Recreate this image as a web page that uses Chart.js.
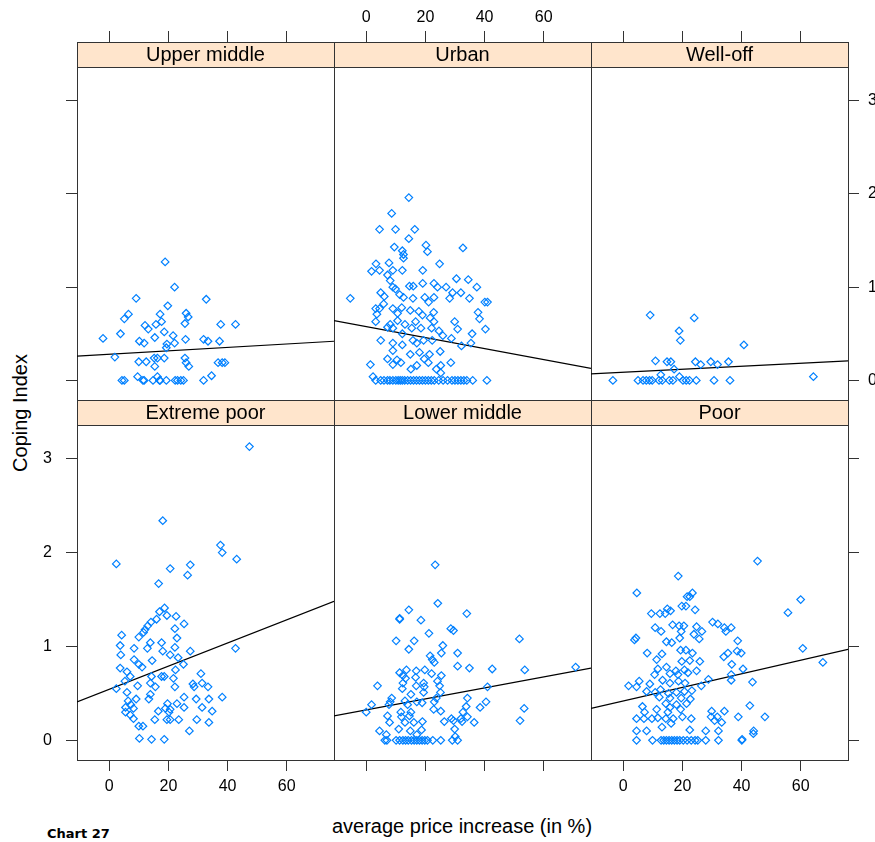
<!DOCTYPE html>
<html>
<head>
<meta charset="utf-8">
<script src="https://cdn.jsdelivr.net/npm/chart.js@4/dist/chart.umd.min.js"></script>
<style>
  body { margin: 0; background: #fff; width: 875px; height: 842px; position: relative; overflow: hidden; }
  canvas { position: absolute; left: 0; top: 0; }
  .lbl { position: absolute; font-family: 'Liberation Sans', Arial, sans-serif; font-size: 20px; color: #000; white-space: nowrap; }
</style>
</head>
<body>
<div class="lbl" id="ytitle" style="left:20px;top:413px;transform:translate(-50%,-50%) rotate(-90deg);">Coping Index</div>
<div class="lbl" style="left:462px;top:826px;transform:translate(-50%,-50%);">average price increase (in %)</div>
<div class="lbl" style="left:47px;top:826px;font-family:'DejaVu Sans',Verdana,sans-serif;font-weight:bold;font-size:13px;">Chart 27</div>

<script>
// panel titles, in lattice order (top row first)
const panelNames = ['Upper middle', 'Urban', 'Well-off', 'Extreme poor', 'Lower middle', 'Poor'];
const xTicks = [0, 20, 40, 60];
const yTicks = [0, 1, 2, 3];

// fitted line: y at left edge and right edge of the x range
const fitLeftX = -10.9;
const fitRightX = 76;
const fitUpperMiddle = [0.26, 0.42];
const fitUrban = [0.64, 0.13];
const fitWellOff = [0.07, 0.21];
const fitExtremePoor = [0.41, 1.48];
const fitLowerMiddle = [0.26, 0.77];
const fitPoor = [0.34, 0.97];

// points: [price increase %, coping index]
const upperMiddle = [[18.9,1.27],[22.1,1.0],[9.1,0.88],[32.8,0.87],[19.8,0.80],[6.5,0.71],[5.1,0.66],[17.2,0.71],[26.0,0.72],[26.7,0.68],[17.7,0.63],[15.8,0.60],[25.6,0.61],[12.1,0.59],[13.2,0.55],[37.7,0.60],[42.7,0.60],[3.8,0.50],[-2.1,0.45],[18.6,0.52],[15.4,0.46],[21.6,0.48],[10.2,0.42],[11.8,0.40],[22.1,0.40],[25.8,0.44],[31.9,0.44],[33.4,0.42],[37.3,0.42],[19.5,0.39],[19.3,0.35],[1.9,0.25],[10.0,0.20],[12.5,0.20],[15.2,0.24],[16.3,0.24],[18.6,0.24],[15.4,0.15],[25.6,0.24],[26.0,0.19],[26.9,0.15],[36.8,0.19],[38.2,0.19],[39.1,0.19],[9.6,0.04],[16.3,0.04],[34.6,0.05],[4.3,0],[5.1,0],[11.4,0],[11.8,0],[14.8,0],[17.0,0],[17.2,0],[19.3,0],[22.3,0],[23.1,0],[24.2,0],[25.1,0],[31.9,0]];

const urban = [[14.4,1.96],[8.6,1.79],[4.5,1.62],[9.9,1.62],[16.4,1.62],[14.4,1.52],[9.5,1.43],[20.2,1.45],[20.7,1.38],[32.7,1.42],[12.2,1.39],[12.6,1.35],[12.6,1.31],[7.7,1.26],[3.3,1.25],[1.8,1.17],[4.5,1.18],[24.8,1.25],[19.1,1.18],[12.2,1.18],[9.0,1.18],[7.2,1.13],[8.1,1.07],[30.5,1.09],[34.5,1.08],[19.1,1.04],[22.9,1.04],[24.1,1.00],[27.0,1.00],[37.4,1.00],[9.0,1.00],[9.9,0.98],[14.6,1.01],[15.9,1.01],[-5.4,0.88],[4.9,0.94],[6.1,0.90],[11.3,0.92],[12.6,0.89],[15.8,0.88],[19.8,0.89],[22.9,0.89],[29.2,0.94],[32.0,0.94],[28.2,0.88],[34.9,0.88],[40.1,0.84],[41.0,0.84],[3.2,0.77],[4.5,0.77],[5.9,0.82],[9.0,0.77],[10.6,0.72],[12.0,0.78],[14.9,0.75],[17.8,0.74],[19.0,0.70],[22.8,0.73],[21.1,0.84],[3.6,0.71],[3.2,0.63],[8.1,0.60],[10.6,0.64],[13.1,0.60],[16.7,0.63],[21.6,0.67],[22.9,0.63],[29.9,0.63],[37.8,0.73],[38.3,0.66],[40.3,0.55],[30.9,0.55],[7.2,0.57],[9.0,0.56],[12.2,0.50],[15.4,0.56],[18.5,0.56],[22.1,0.56],[24.6,0.53],[25.9,0.48],[28.8,0.45],[35.8,0.50],[35.4,0.40],[4.9,0.43],[9.0,0.40],[15.8,0.43],[17.1,0.40],[19.4,0.43],[22.3,0.43],[12.2,0.38],[32.2,0.37],[9.0,0.32],[14.9,0.28],[18.0,0.30],[21.4,0.28],[25.0,0.31],[7.2,0.23],[10.4,0.22],[11.7,0.19],[19.6,0.23],[21.0,0.19],[28.6,0.19],[1.4,0.17],[9.0,0.17],[17.1,0.16],[25.2,0.16],[15.1,0.12],[23.7,0.12],[25.2,0.08],[2.3,0.04],[3.2,0],[4.9,0],[6.0,0],[7.2,0],[8.0,0],[9.0,0],[10.0,0],[10.8,0],[11.5,0],[12.2,0],[13.0,0],[14.0,0],[15.0,0],[16.0,0],[17.0,0],[18.0,0],[19.0,0],[20.0,0],[21.0,0],[22.0,0],[23.0,0],[24.5,0],[26.0,0],[27.5,0],[29.0,0],[30.0,0],[31.0,0],[32.0,0],[33.0,0],[34.0,0],[36.0,0],[40.8,0]];

const wellOff = [[9.1,0.70],[24.0,0.67],[18.9,0.53],[19.3,0.43],[40.8,0.38],[10.9,0.21],[14.8,0.20],[16.1,0.20],[17.2,0.12],[24.4,0.20],[26.2,0.17],[29.6,0.20],[31.9,0.17],[35.6,0.20],[12.7,0.06],[19.0,0.04],[64.3,0.04],[-3.5,0],[5.0,0],[6.7,0],[7.8,0],[8.9,0],[9.8,0],[12.1,0],[13.2,0],[15.6,0],[16.8,0],[20.2,0],[21.3,0],[22.4,0],[24.7,0],[30.7,0],[36.1,0]];

const extremePoor = [[47.4,3.13],[18.1,2.34],[37.6,2.08],[38.2,2.00],[43.1,1.93],[2.4,1.88],[20.6,1.83],[27.4,1.87],[26.5,1.76],[16.7,1.67],[18.7,1.41],[17.0,1.37],[19.5,1.33],[22.6,1.32],[16.0,1.29],[14.1,1.26],[25.3,1.24],[13.0,1.22],[12.1,1.18],[22.2,1.19],[11.6,1.15],[4.2,1.12],[10.0,1.10],[22.9,1.09],[13.9,1.04],[17.7,1.04],[3.7,1.01],[8.4,0.98],[12.9,0.98],[22.2,0.99],[27.4,0.95],[18.1,0.95],[20.6,0.91],[3.9,0.91],[42.7,0.98],[8.4,0.86],[14.5,0.85],[23.3,0.88],[10.0,0.81],[11.1,0.78],[25.1,0.81],[3.7,0.77],[6.0,0.73],[22.4,0.75],[14.3,0.68],[17.7,0.68],[7.1,0.68],[18.6,0.68],[21.7,0.66],[5.3,0.63],[13.9,0.61],[28.3,0.60],[31.4,0.61],[31.0,0.71],[2.4,0.55],[9.6,0.58],[15.6,0.57],[22.2,0.57],[28.7,0.57],[33.4,0.57],[6.0,0.51],[13.9,0.49],[25.3,0.46],[38.2,0.46],[6.4,0.42],[9.1,0.44],[13.4,0.44],[29.4,0.44],[33.7,0.44],[7.3,0.38],[19.7,0.39],[22.9,0.39],[5.5,0.35],[8.2,0.34],[19.0,0.34],[20.6,0.33],[25.3,0.35],[31.4,0.35],[5.5,0.30],[20.2,0.30],[34.8,0.31],[16.6,0.31],[7.1,0.27],[8.2,0.23],[15.4,0.22],[19.5,0.22],[20.6,0.22],[23.5,0.22],[29.6,0.22],[33.7,0.19],[10.0,0.15],[11.4,0.15],[27.1,0.10],[10.2,0.02],[14.3,0.01],[18.6,0.01]];

const lowerMiddle = [[23.3,1.87],[24.2,1.46],[14.4,1.39],[34.0,1.35],[11.3,1.30],[11.3,1.29],[18.5,1.28],[28.6,1.19],[29.5,1.17],[21.2,1.14],[10.1,1.06],[16.2,1.06],[14.4,0.97],[25.9,1.01],[25.4,0.93],[30.9,0.93],[21.6,0.90],[22.3,0.86],[23.0,0.83],[30.9,0.79],[34.9,0.77],[42.6,0.76],[51.8,1.08],[53.6,0.75],[70.8,0.78],[11.3,0.72],[13.6,0.75],[16.9,0.74],[19.8,0.75],[22.1,0.71],[25.4,0.69],[12.4,0.69],[13.3,0.66],[16.7,0.67],[19.4,0.61],[24.1,0.63],[3.8,0.58],[12.4,0.61],[16.9,0.58],[19.6,0.57],[24.8,0.58],[12.2,0.55],[15.1,0.49],[19.4,0.51],[25.1,0.51],[41.0,0.57],[8.6,0.45],[8.1,0.41],[34.2,0.45],[40.5,0.41],[13.1,0.42],[17.1,0.41],[18.9,0.40],[23.0,0.41],[23.7,0.45],[1.8,0.38],[7.7,0.38],[14.0,0.38],[33.8,0.36],[38.5,0.35],[0.0,0.30],[11.7,0.30],[15.1,0.30],[22.8,0.33],[25.2,0.31],[32.7,0.30],[53.4,0.34],[7.2,0.26],[11.9,0.25],[14.6,0.26],[28.8,0.23],[32.0,0.23],[34.2,0.25],[7.9,0.19],[13.1,0.19],[16.1,0.19],[19.0,0.20],[26.4,0.20],[29.5,0.21],[32.4,0.20],[36.5,0.19],[52.0,0.21],[11.0,0.12],[14.9,0.10],[18.7,0.11],[4.5,0.10],[29.9,0.12],[6.8,0.06],[17.1,0.06],[30.1,0.04],[6.3,0],[7.0,0],[10.1,0],[11.3,0],[12.4,0],[13.3,0],[14.2,0],[15.3,0],[16.2,0],[17.1,0],[18.0,0],[18.9,0],[19.8,0],[20.7,0],[22.5,0],[25.2,0],[29.1,0],[30.9,0]];

const poor = [[45.4,1.91],[18.6,1.75],[4.6,1.57],[23.4,1.57],[22.5,1.53],[21.6,1.53],[19.8,1.43],[21.2,1.43],[24.3,1.39],[14.9,1.40],[16.0,1.38],[9.5,1.35],[12.4,1.35],[14.2,1.35],[30.2,1.26],[32.0,1.24],[34.2,1.20],[34.7,1.16],[36.5,1.20],[16.7,1.23],[18.9,1.22],[20.5,1.22],[10.8,1.20],[12.8,1.16],[19.6,1.16],[24.8,1.21],[23.9,1.13],[26.6,1.16],[25.7,1.08],[19.1,1.09],[3.8,1.07],[4.3,1.09],[14.6,1.05],[16.4,1.04],[38.7,1.06],[19.4,0.96],[21.2,0.96],[23.4,0.93],[8.1,0.93],[13.1,0.92],[34.0,0.89],[35.4,0.93],[38.5,0.95],[39.9,0.93],[11.3,0.86],[22.5,0.85],[25.9,0.84],[19.8,0.84],[36.7,0.81],[40.5,0.76],[11.7,0.76],[14.6,0.78],[17.8,0.74],[20.7,0.75],[24.8,0.74],[10.6,0.70],[15.8,0.71],[18.5,0.70],[21.9,0.72],[36.5,0.70],[5.4,0.63],[1.8,0.58],[4.5,0.57],[9.0,0.60],[13.3,0.64],[15.8,0.61],[18.7,0.63],[20.9,0.61],[28.8,0.65],[36.5,0.64],[43.7,0.62],[26.4,0.58],[7.9,0.52],[10.8,0.51],[12.6,0.54],[15.3,0.50],[18.0,0.51],[20.7,0.52],[23.2,0.53],[12.2,0.46],[15.8,0.45],[19.6,0.45],[22.7,0.44],[14.4,0.39],[18.0,0.38],[21.4,0.39],[6.5,0.36],[15.8,0.35],[42.8,0.37],[7.2,0.30],[11.3,0.33],[15.1,0.30],[19.4,0.33],[29.9,0.31],[34.2,0.31],[4.5,0.23],[7.0,0.23],[9.7,0.23],[11.7,0.24],[14.4,0.23],[16.9,0.23],[20.0,0.25],[23.0,0.23],[29.7,0.25],[31.8,0.25],[38.9,0.25],[47.9,0.25],[16.2,0.18],[30.9,0.21],[33.3,0.19],[13.1,0.14],[22.5,0.11],[4.5,0.10],[7.9,0.10],[44.1,0.10],[27.9,0.10],[32.2,0.10],[60.0,1.50],[55.7,1.36],[60.7,0.98],[67.5,0.83],[44.0,0.07],[40.2,0.01],[4.5,0],[9.9,0],[12.8,0],[13.7,0],[14.6,0],[15.5,0],[16.4,0],[17.3,0],[18.2,0],[19.1,0],[20.3,0],[21.6,0],[23.0,0],[24.3,0],[25.2,0],[27.9,0],[32.2,0],[40.1,0]];

const panelPoints = [upperMiddle, urban, wellOff, extremePoor, lowerMiddle, poor];
const panelFits = [fitUpperMiddle, fitUrban, fitWellOff, fitExtremePoor, fitLowerMiddle, fitPoor];

// geometry of the lattice (pixels)
const W = 875, H = 842;
const colEdges = [77, 334, 591, 848];
const rowTops = [42, 400];
const rowBottoms = [400, 760];
const stripH = 25;
// axis box sizes, big enough that tick labels are not clipped
const boxTop = 42, boxBottom = 60, boxLeft = 70, boxRight = 27;
const font = "'Liberation Sans', Arial, sans-serif";
const labelPad = { top: 4, bottom: 6, left: 14, right: 9 };

// which side gets ticks / labels for each panel (lattice alternation)
const sides = [
  { top: 'tick', left: 'tick' },
  { top: 'label' },
  { top: 'tick', right: 'label' },
  { bottom: 'label', left: 'label' },
  { bottom: 'tick' },
  { bottom: 'label', right: 'tick' }
];

const stripPlugin = {
  id: 'strip',
  beforeDraw(chart, args, opts) {
    const a = chart.chartArea, ctx = chart.ctx;
    ctx.save();
    ctx.fillStyle = '#ffe5cc';
    ctx.fillRect(a.left, a.top, a.right - a.left, stripH);
    ctx.restore();
  },
  afterDraw(chart, args, opts) {
    const a = chart.chartArea, ctx = chart.ctx;
    ctx.save();
    ctx.strokeStyle = '#333';
    ctx.lineWidth = 1;
    ctx.beginPath();
    ctx.moveTo(a.left, Math.round(a.top + stripH) + 0.5);
    ctx.lineTo(a.right, Math.round(a.top + stripH) + 0.5);
    ctx.stroke();
    ctx.fillStyle = '#000';
    ctx.font = '20px ' + font;
    ctx.textAlign = 'center';
    ctx.textBaseline = 'middle';
    ctx.fillText(opts.title, (a.left + a.right) / 2, a.top + stripH / 2 + 1);
    ctx.restore();
  }
};

const boxSize = { top: boxTop, bottom: boxBottom, left: boxLeft, right: boxRight };

function axis(position, kind, isX, rowIdx) {
  const fix = s => { if (isX) s.height = boxSize[position]; else s.width = boxSize[position]; };
  const vals = isX ? xTicks : yTicks;
  const cfg = {
    type: 'linear',
    position: position,
    afterFit: fix,
    afterBuildTicks: s => { s.ticks = vals.map(v => ({ value: v })); },
    border: { display: true, color: '#333', width: 1 },
    grid: { display: !!kind, drawOnChartArea: false, drawTicks: true, tickLength: 11, color: '#333' },
    ticks: {
      display: kind === 'label',
      autoSkip: false, maxRotation: 0,
      color: '#000',
      font: { family: font, size: 16 },
      padding: labelPad[position]
    }
  };
  if (isX) { cfg.min = fitLeftX; cfg.max = fitRightX; }
  else {
    // panel spans -0.21..3.36, strip adds 25px on top
    const ph = rowBottoms[rowIdx] - rowTops[rowIdx] - stripH;
    const per = ph / (3.36 + 0.21);
    cfg.min = -0.21; cfg.max = 3.36 + stripH / per;
  }
  return cfg;
}

panelNames.forEach((name, i) => {
  const r = Math.floor(i / 3), c = i % 3;
  const cv = document.createElement('canvas');
  cv.width = W; cv.height = H;
  document.body.appendChild(cv);
  const L = colEdges[c], R = colEdges[c + 1], T = rowTops[r], B = rowBottoms[r];
  const sd = sides[i];
  const pts = panelPoints[i].map(p => ({ x: p[0], y: p[1] }));
  const fit = panelFits[i];
  new Chart(cv.getContext('2d'), {
    type: 'scatter',
    data: {
      datasets: [{
        data: pts,
        pointStyle: 'rectRot',
        pointRadius: 3.8,
        pointBorderWidth: 1.2,
        borderColor: '#0080ff',
        backgroundColor: 'rgba(0,0,0,0)',
        xAxisID: 'x', yAxisID: 'y'
      }, {
        type: 'line',
        data: [{ x: fitLeftX, y: fit[0] }, { x: fitRightX, y: fit[1] }],
        borderColor: '#000',
        borderWidth: 1.2,
        pointRadius: 0,
        xAxisID: 'x', yAxisID: 'y'
      }]
    },
    options: {
      responsive: false,
      animation: false,
      events: [],
      layout: { padding: { left: L - boxLeft, right: W - R - boxRight, top: T - boxTop, bottom: H - B - boxBottom } },
      plugins: { legend: { display: false }, tooltip: { enabled: false }, strip: { title: name } },
      scales: {
        x: axis('bottom', sd.bottom, true, r),
        x2: axis('top', sd.top, true, r),
        y: axis('left', sd.left, false, r),
        y2: axis('right', sd.right, false, r)
      }
    },
    plugins: [stripPlugin]
  });
});
</script>
</body>
</html>
